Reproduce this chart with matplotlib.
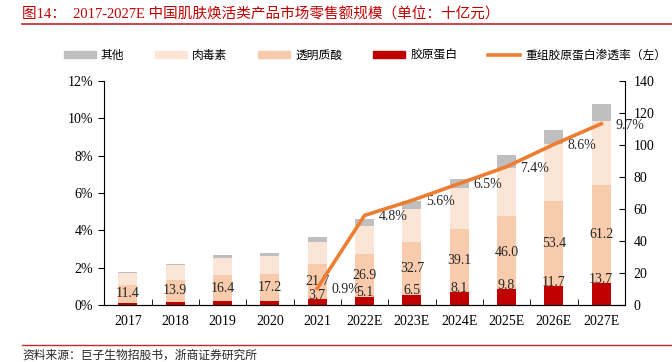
import numpy as np
import matplotlib
matplotlib.use("Agg")
import matplotlib.pyplot as plt
from matplotlib.lines import Line2D
from matplotlib.patches import Patch

plt.rcParams['font.family'] = ['Liberation Serif', 'Noto Sans CJK SC', 'DejaVu Sans']

years = ['2017', '2018', '2019', '2020', '2021', '2022E', '2023E',
         '2024E', '2025E', '2026E', '2027E']
collagen = [1.4, 2.0, 2.5, 2.5, 3.7, 5.1, 6.5, 8.1, 9.8, 11.7, 13.7]
hyaluronic = [11.4, 13.9, 16.4, 17.2, 21.7, 26.9, 32.7, 39.1, 46.0, 53.4, 61.2]
botox = [7.5, 9.0, 10.4, 11.0, 14.0, 17.6, 20.6, 26.0, 30.0, 35.3, 40.0]
other = [0.4, 0.8, 1.9, 2.0, 3.0, 4.0, 5.0, 5.6, 7.7, 9.0, 10.6]
rate_years = ['2021', '2022E', '2023E', '2024E', '2025E', '2026E', '2027E']
rate = [0.9, 4.8, 5.6, 6.5, 7.4, 8.6, 9.7]

c_red = '#C00000'
c_ha = '#F8CBAD'
c_botox = '#FBE5D6'
c_other = '#BFBFBF'
c_line = '#ED7D31'

fig = plt.figure(figsize=(6.72, 3.62), dpi=100)
ax = fig.add_axes([0.155, 0.157, 0.775, 0.62])

x = np.arange(len(years))
w = 0.4
collagen = np.array(collagen)
hyaluronic = np.array(hyaluronic)
botox = np.array(botox)
other = np.array(other)

ax.bar(x, collagen, w, color=c_red, zorder=2)
ax.bar(x, hyaluronic, w, bottom=collagen, color=c_ha, zorder=2)
ax.bar(x, botox, w, bottom=collagen + hyaluronic, color=c_botox, zorder=2)
ax.bar(x, other, w, bottom=collagen + hyaluronic + botox, color=c_other, zorder=2)

# value labels
for i in range(len(years)):
    ax.text(x[i], collagen[i] + hyaluronic[i] / 2, f'{hyaluronic[i]:.1f}',
            ha='center', va='center', fontsize=10, color='#262626', zorder=5)
    if i >= 4:
        ax.annotate(f'{collagen[i]:.1f}', (x[i], collagen[i]), xytext=(0, 3),
                    textcoords='offset points', ha='center', va='center',
                    fontsize=10, color='#262626', zorder=5)

# penetration rate on left axis
ax2 = ax.twinx()
rx = [years.index(y) for y in rate_years]
ry = np.array(rate) / 100
ax2.plot(rx, ry, color=c_line, lw=2.6, zorder=4)
for xi, yi, v in zip(rx, ry, rate):
    ax2.annotate(f'{v}%', (xi, yi), xytext=(10, -1), textcoords='offset points',
                 ha='left', va='center', fontsize=10, color='#262626')

# axes: bars on right scale, rate on left scale
ax.yaxis.tick_right()
ax.yaxis.set_label_position('right')
ax2.yaxis.tick_left()
ax2.yaxis.set_label_position('left')

ax.set_xlim(-0.5, len(years) - 0.5)
ax.set_ylim(0, 140)
ax.set_yticks(np.arange(0, 141, 20))
ax.tick_params(axis='y', direction='in', length=4, labelsize=10, pad=6)
ax.set_xticks(x)
ax.set_xticklabels(years)
ax.tick_params(axis='x', length=0, labelsize=10, pad=7)
ax.set_xticks(np.arange(0.5, len(years) - 1, 1), minor=True)
ax.tick_params(axis='x', which='minor', direction='in', length=4)
ax.spines['top'].set_visible(False)
ax.spines['left'].set_visible(False)

ax2.set_ylim(0, 0.12)
ax2.set_yticks(np.arange(0, 0.121, 0.02))
ax2.set_yticklabels([f'{v}%' for v in range(0, 13, 2)])
ax2.tick_params(axis='y', direction='out', length=4, labelsize=10, pad=4)
ax2.spines['top'].set_visible(False)
ax2.spines['left'].set_visible(True)
ax2.spines['right'].set_visible(False)

# legend
handles = [Patch(color=c_other), Patch(color=c_botox), Patch(color=c_ha),
           Patch(color=c_red), Line2D([0], [0], color=c_line, lw=2.6)]
labels = ['其他', '肉毒素', '透明质酸', '胶原蛋白', '重组胶原蛋白渗透率（左）']
fig.legend(handles, labels, loc='center', bbox_to_anchor=(0.543, 0.848), ncol=5,
           frameon=False, handlelength=2.7, handleheight=0.6,
           handletextpad=0.45, columnspacing=2.6,
           prop={'family': ['Noto Sans CJK SC'], 'size': 8.5})

# title and source
fig.text(0.033, 0.96, '图14：  2017-2027E 中国肌肤焕活类产品市场零售额规模（单位：十亿元）',
         ha='left', va='center', fontsize=10.5, color='#C00000')
fig.add_artist(Line2D([0.033, 1.0], [0.933, 0.933], color='#C8262C', lw=1.2))
fig.add_artist(Line2D([0.033, 1.0], [0.047, 0.047], color='#C8262C', lw=1.0))
fig.text(0.033, 0.018, '资料来源：巨子生物招股书，浙商证券研究所', ha='left', va='center',
         fontsize=8.5, color='#262626', family=['Noto Sans CJK SC'])

fig.savefig('out.png', dpi=100)
